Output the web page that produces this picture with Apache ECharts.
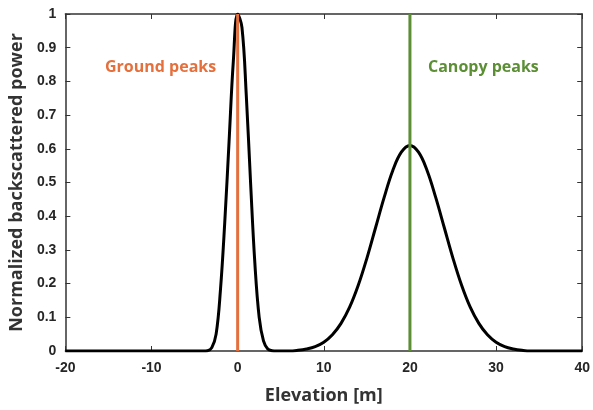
<!DOCTYPE html>
<html>
<head>
<meta charset="utf-8">
<script src="https://cdn.jsdelivr.net/npm/echarts@6/dist/echarts.min.js"></script>
<style>
  html, body { margin: 0; padding: 0; background: #fff; }
  #chart { width: 593px; height: 410px; }
</style>
</head>
<body>
<div id="chart"></div>
<script>
const elevation = [-20, -15, -10, -5, -4, -3.5, -3, -2.5, -2, -1.5, -1, -0.5, 0, 0.5, 1, 1.5, 2, 2.5, 3, 3.5, 4, 4.5, 5,
  6, 7, 8, 9, 10, 11, 12, 13, 14, 15, 16, 17, 18, 19, 20, 21, 22, 23, 24, 25, 26, 27, 28, 29, 30, 31, 32, 33, 34, 35, 40];
const power = [0, 0, 0, 0, 0, 0.001, 0.01, 0.05, 0.18, 0.38, 0.62, 0.86, 1.0, 0.96, 0.76, 0.5, 0.26, 0.1, 0.03, 0.006, 0.001, 0, 0,
  0, 0.002, 0.006, 0.013, 0.026, 0.048, 0.082, 0.13, 0.195, 0.275, 0.365, 0.455, 0.535, 0.59, 0.61,
  0.59, 0.535, 0.455, 0.365, 0.275, 0.195, 0.13, 0.082, 0.048, 0.026, 0.013, 0.006, 0.002, 0, 0, 0];
const groundPeak = 0;
const canopyPeak = 20;
const xTicks = [-20, -10, 0, 10, 20, 30, 40];
const yTicks = [0, 0.1, 0.2, 0.3, 0.4, 0.5, 0.6, 0.7, 0.8, 0.9, 1];

const chart = echarts.init(document.getElementById('chart'));
const axisColor = '#333';
const tickFont = { color: '#262626', fontFamily: 'Liberation Sans', fontWeight: 'bold', fontSize: 14 };
const frameLine = { show: true, onZero: false, lineStyle: { color: axisColor, width: 1.5 } };
const frameTick = { show: true, inside: true, length: 5, lineStyle: { color: axisColor } };

chart.setOption({
  animation: false,
  grid: { left: 65, right: 7, top: 14, bottom: 56 },
  xAxis: [
    {
      type: 'value', min: xTicks[0], max: xTicks[xTicks.length - 1], interval: 10,
      axisLine: frameLine, axisTick: frameTick,
      axisLabel: { ...tickFont, margin: 10 },
      splitLine: { show: false },
      name: 'Elevation [m]', nameLocation: 'middle', nameGap: 36,
      nameTextStyle: { color: '#333', fontFamily: 'Open Sans', fontWeight: 'bold', fontSize: 18 }
    },
    {
      type: 'value', position: 'top', min: xTicks[0], max: xTicks[xTicks.length - 1], interval: 10,
      axisLine: frameLine, axisTick: frameTick,
      axisLabel: { show: false }, splitLine: { show: false }
    }
  ],
  yAxis: [
    {
      type: 'value', min: 0, max: 1, interval: 0.1,
      axisLine: frameLine, axisTick: frameTick,
      axisLabel: { ...tickFont, margin: 9, formatter: v => String(Math.round(v * 10) / 10) },
      splitLine: { show: false },
      name: 'Normalized backscattered power', nameLocation: 'middle', nameGap: 35,
      nameTextStyle: { color: '#333', fontFamily: 'Open Sans', fontWeight: 'bold', fontSize: 18 }
    },
    {
      type: 'value', position: 'right', min: 0, max: 1, interval: 0.1,
      axisLine: frameLine, axisTick: frameTick,
      axisLabel: { show: false }, splitLine: { show: false }
    }
  ],
  series: [
    {
      type: 'line', name: 'Waveform', showSymbol: false, smooth: 0.4,
      data: elevation.map((e, i) => [e, power[i]]),
      lineStyle: { color: '#000', width: 3 }
    },
    {
      type: 'line', name: 'Ground peaks', showSymbol: false,
      data: [[groundPeak, yTicks[0]], [groundPeak, yTicks[yTicks.length - 1]]],
      lineStyle: { color: '#E4703E', width: 3 }
    },
    {
      type: 'line', name: 'Canopy peaks', showSymbol: false,
      data: [[canopyPeak, yTicks[0]], [canopyPeak, yTicks[yTicks.length - 1]]],
      lineStyle: { color: '#5B8E35', width: 3 }
    }
  ],
  graphic: [
    {
      type: 'text', left: 105, top: 59,
      style: { text: 'Ground peaks', fill: '#E4703E', font: 'bold 16px "Open Sans"' }
    },
    {
      type: 'text', left: 428, top: 59,
      style: { text: 'Canopy peaks', fill: '#5B8E35', font: 'bold 16px "Open Sans"' }
    }
  ]
});
</script>
</body>
</html>
